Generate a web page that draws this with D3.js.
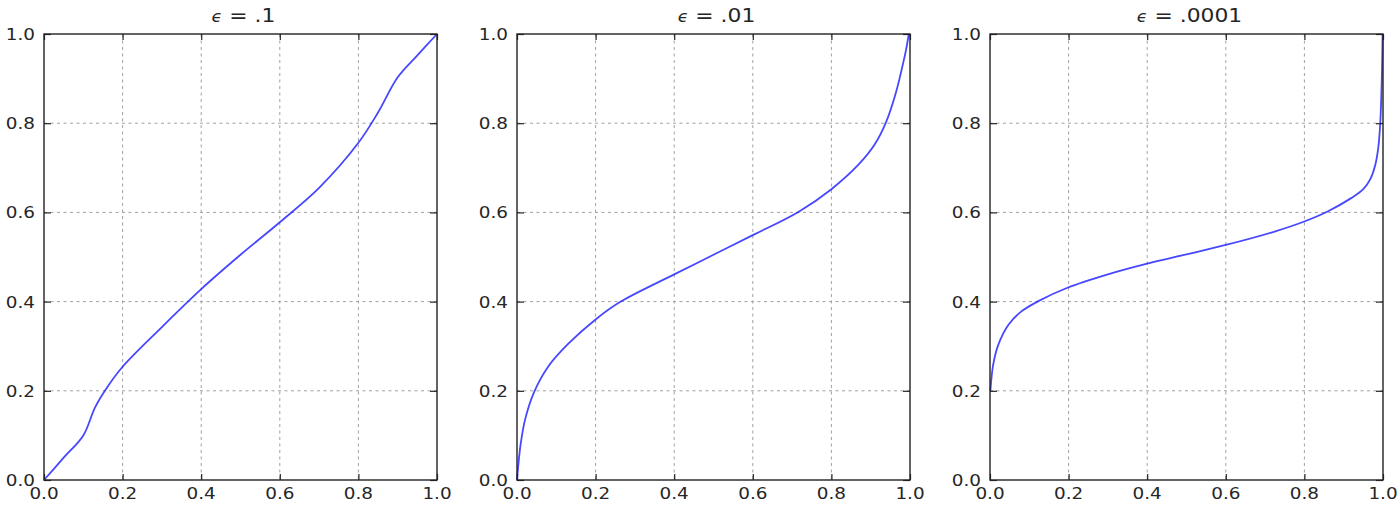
<!DOCTYPE html>
<html><head><meta charset="utf-8">
<script src="https://cdn.jsdelivr.net/npm/d3@7"></script>
<style>body{margin:0;background:#fff;} text{font-family:"DejaVu Sans",sans-serif;fill:#262626;}</style>
</head><body><svg id="c" width="1400" height="512"></svg>
<script>
const titles = ["\u03F5", "\u03F5", "\u03F5"];
const titleValues = [".1", ".01", ".0001"];
const tickValues = [0, 0.2, 0.4, 0.6, 0.8, 1.0];
const tickLabels = ["0.0", "0.2", "0.4", "0.6", "0.8", "1.0"];

const x1 = [0, 0.05, 0.1, 0.13, 0.16, 0.2, 0.3, 0.4, 0.5, 0.6, 0.7, 0.8, 0.85, 0.9, 0.95, 1];
const y1 = [0, 0.05, 0.1, 0.163, 0.207, 0.254, 0.343, 0.428, 0.505, 0.578, 0.655, 0.756, 0.824, 0.903, 0.952, 1];

const x2 = [0, 0.003, 0.009, 0.021, 0.043, 0.08, 0.13, 0.2, 0.264, 0.4, 0.5, 0.6, 0.716, 0.8, 0.87, 0.91, 0.938, 0.963, 0.98, 0.99, 0.997];
const y2 = [0, 0.03, 0.079, 0.137, 0.196, 0.255, 0.305, 0.36, 0.4, 0.461, 0.505, 0.549, 0.601, 0.652, 0.708, 0.752, 0.8, 0.865, 0.925, 0.965, 1.0];

const x3 = [0.001, 0.008, 0.021, 0.047, 0.08, 0.123, 0.197, 0.3, 0.4, 0.5, 0.6, 0.724, 0.798, 0.859, 0.919, 0.95, 0.968, 0.98, 0.988, 0.993, 0.996, 0.998, 0.999];
const y3 = [0.2, 0.258, 0.303, 0.348, 0.378, 0.401, 0.431, 0.461, 0.485, 0.506, 0.527, 0.557, 0.579, 0.602, 0.632, 0.652, 0.675, 0.705, 0.745, 0.8, 0.87, 0.94, 1.0];

const series = [[x1, y1], [x2, y2], [x3, y3]];

const svg = d3.select("#c");
const pTop = 34, pBottom = 480, pw = 393, step = 473, left0 = 44;
const SX = 1.15, FS = 16, TFS = 19;

series.forEach(([xs, ys], i) => {
  const L = left0 + i * step;
  const x = d3.scaleLinear().domain([0, 1]).range([L, L + pw]);
  const y = d3.scaleLinear().domain([0, 1]).range([pBottom, pTop]);
  const g = svg.append("g");

  // grid
  tickValues.slice(1, -1).forEach(t => {
    g.append("line").attr("x1", x(t)).attr("x2", x(t)).attr("y1", pTop).attr("y2", pBottom)
      .attr("stroke", "#a0a0a0").attr("stroke-dasharray", "3,3.5").attr("stroke-width", 1);
    g.append("line").attr("y1", y(t)).attr("y2", y(t)).attr("x1", L).attr("x2", L + pw)
      .attr("stroke", "#a0a0a0").attr("stroke-dasharray", "3,3.5").attr("stroke-width", 1);
  });

  // line
  const pts = xs.map((v, k) => [v, ys[k]]);
  g.append("path").datum(pts)
    .attr("d", d3.line().x(d => x(d[0])).y(d => y(d[1])).curve(d3.curveCatmullRom.alpha(0.5)))
    .attr("fill", "none").attr("stroke", "#0000ff").attr("stroke-opacity", 0.72).attr("stroke-width", 1.8)
    .attr("stroke-linejoin", "round");

  // axes with inward ticks
  const ax = [
    [d3.axisBottom(x), `translate(0,${pBottom})`, 6],
    [d3.axisTop(x), `translate(0,${pTop})`, 6],
    [d3.axisLeft(y), `translate(${L},0)`, 7],
    [d3.axisRight(y), `translate(${L + pw},0)`, 7]
  ];
  ax.forEach(([a, tr, tk]) => {
    const ag = g.append("g").attr("transform", tr)
      .call(a.tickValues(tickValues).tickSize(-tk).tickSizeOuter(0).tickFormat(""));
    ag.select(".domain").remove();
    ag.selectAll("line").attr("stroke", "#222").attr("stroke-width", 1.2);
  });

  // tick labels
  tickValues.forEach((t, k) => {
    g.append("text").attr("transform", `translate(${x(t)},${pBottom + 19}) scale(${SX},1)`)
      .attr("text-anchor", "middle").attr("font-size", FS).text(tickLabels[k]);
    g.append("text").attr("transform", `translate(${L - 9},${y(t) + 6}) scale(${SX},1)`)
      .attr("text-anchor", "end").attr("font-size", FS).text(tickLabels[k]);
  });

  // frame
  g.append("rect").attr("x", L).attr("y", pTop).attr("width", pw).attr("height", pBottom - pTop)
    .attr("fill", "none").attr("stroke", "#222").attr("stroke-width", 1.4);

  // title
  const tt = g.append("text").attr("transform", `translate(${L + pw / 2 + 3},${pTop - 12}) scale(${SX},1)`)
    .attr("text-anchor", "middle").attr("font-size", TFS);
  tt.append("tspan").attr("font-style", "italic").attr("font-size", TFS * 0.8).text(titles[i]);
  tt.append("tspan").text(" = " + titleValues[i]);
});
</script></body></html>
